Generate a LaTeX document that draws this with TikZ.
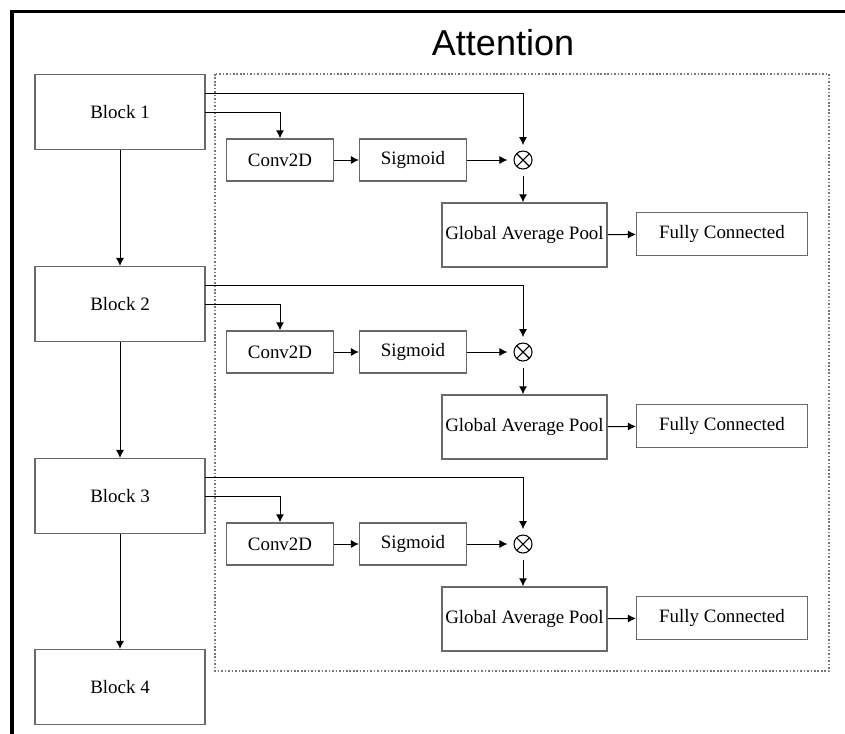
\documentclass[tikz,border=0pt]{standalone}
\usepackage{fontspec}
\setmainfont{Liberation Serif}
\newfontfamily\titlefont{Liberation Sans}
\usetikzlibrary{arrows.meta}
\definecolor{boxgray}{RGB}{105,105,105}
\definecolor{dashgray}{RGB}{120,120,120}
\begin{document}
\begin{tikzpicture}[x=0.75pt,y=-0.75pt,
  box/.style={draw=boxgray,line width=1.1pt,fill=white,inner sep=0pt,font=\fontsize{14.2}{16}\selectfont},
  arr/.style={draw=black,line width=0.75pt,-{Latex[length=6pt,width=6pt]}},
  otimes/.style={circle,draw=black,line width=0.8pt,minimum size=13.5pt,inner sep=0pt,
    path picture={\draw[black,line width=0.8pt]
      (path picture bounding box.north west)--(path picture bounding box.south east)
      (path picture bounding box.north east)--(path picture bounding box.south west);}}]
\useasboundingbox (0,0) rectangle (845,733);
\fill[white] (0,0) rectangle (845,733);
% outer frame (top and left)
\draw[black,line width=2.6pt] (846,11.5) -- (12,11.5) -- (12,734);
% title
\node[font=\titlefont\fontsize{27}{30}\selectfont] (title) at (503,43) {Attention};
% dashed attention region
\draw[dashgray,line width=0.8pt,dash pattern=on 1.2pt off 1.4pt] (215,74) rectangle (829,671);
% blocks
\foreach \i/\y in {1/112,2/304,3/496,4/687}{
  \node[box,minimum width=127.5pt,minimum height=56pt] (b\i) at (120,\y) {Block \i};
}
\foreach \a/\b in {1/2,2/3,3/4}{
  \draw[arr] (b\a) -- (b\b);
}
% attention rows
\foreach \i/\o in {1/0,2/192,3/384}{
  \node[box,minimum width=80pt,minimum height=31.5pt] (c\i) at (280,160+\o) {Conv2D};
  \node[box,minimum width=80pt,minimum height=31.5pt] (s\i) at (413,160+\o) {Sigmoid};
  \node[otimes] (m\i) at (523,160+\o) {};
  \node[box,minimum width=124pt,minimum height=48pt] (g\i) at (524.5,235+\o) {Global Average Pool};
  \node[box,minimum width=128pt,minimum height=32pt] (f\i) at (722,234+\o) {Fully Connected};
  \coordinate (p\i) at (205,93+\o);
  \coordinate (q\i) at (205,112+\o);
  \draw[arr] (p\i) -| ([yshift=4pt]m\i.north);
  \draw[arr] (q\i) -| (c\i.north);
  \draw[arr] (c\i) -- (s\i);
  \draw[arr] (s\i.east) -- ([xshift=-4.5pt]m\i.west);
  \draw[arr] ([yshift=-4.5pt]m\i.south) -- (m\i.south |- g\i.north);
  \draw[arr] (g\i) -- (f\i);
}
\end{tikzpicture}
\end{document}
